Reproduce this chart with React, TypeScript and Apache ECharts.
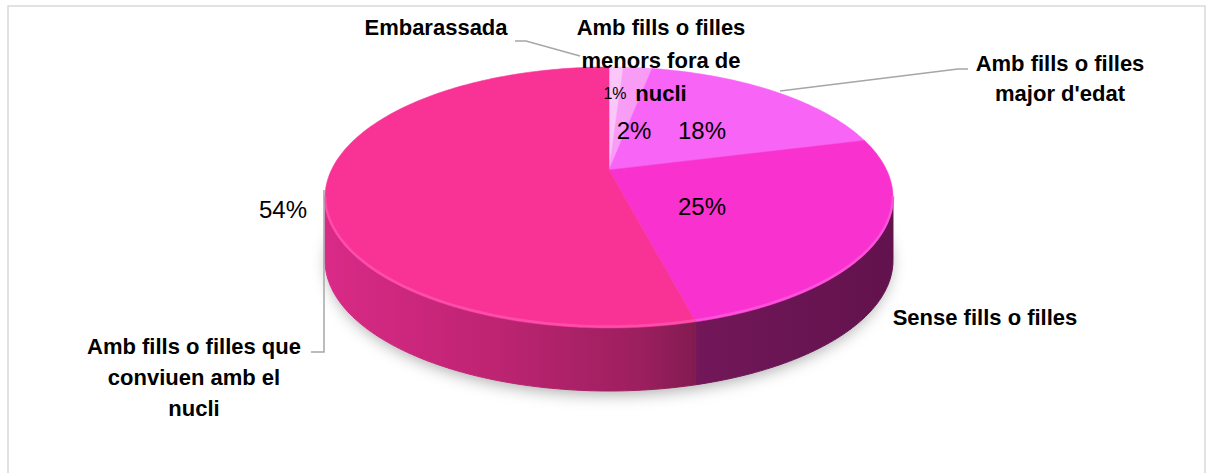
import React, { useEffect, useRef } from "react";
import * as echarts from "echarts";

// ---- data ----
const categories = [
  "Embarassada",
  "Amb fills o filles\nmenors fora de\nnucli",
  "Amb fills o filles\nmajor d'edat",
  "Sense fills o filles",
  "Amb fills o filles que\nconviuen amb el\nnucli",
];
const values = [1, 2, 18, 25, 54];

// ---- styles / layout ----
const topColors = ["#FBC6F8", "#F99CF6", "#F864F6", "#F932CF", "#F93396"];
const rimColors = ["#FDD8FA", "#FBB4F8", "#FB86F8", "#FF5ADD", "#FF55B0"];
const sideStops = [
  [[0, "#E9A3E6"], [1, "#C97FC6"]],
  [[0, "#D978D6"], [1, "#B85FB5"]],
  [[0, "#B840B6"], [1, "#8E2C8C"]],
  [[0, "#721759"], [0.5, "#6A1553"], [1, "#62124D"]],
  [[0, "#D92A87"], [0.45, "#BE2472"], [0.85, "#9C1F5F"], [1, "#821B50"]],
];
const pctPos = [[615, 93], [634, 130], [702, 130], [702, 206], [283, 209]];
const pctSize = [16, 24, 24, 24, 24];
const namePos = [[436, 27], [661, 60], [1060, 78], [985, 317], [194, 377]];
const nameLineHeight = [31, 33, 30, 31, 31];
const leaders: (number[][] | null)[] = [
  [[515, 41], [526, 41], [580, 56]],
  null,
  [[968, 69], [958, 69], [780, 91]],
  null,
  [[311, 352], [324, 352], [324, 190]],
];

// perspective pie geometry
const CX = 609;
const CY = 170; // projected centre of the pie
const AX = 277.6; // horizontal scale
const BY = 124.7; // depth scale
const P = 0.2107; // perspective factor
const DEPTH = 63;
const FONT = '"Liberation Sans", Arial, sans-serif';

export default function App() {
  const ref = useRef<HTMLDivElement>(null);
  useEffect(() => {
    if (!ref.current) return;
    const chart = echarts.init(ref.current, undefined, { renderer: "svg" });
    const total = values.reduce((a, b) => a + b, 0);
    const starts: number[] = [];
    let acc = 0;
    values.forEach((v) => {
      starts.push(acc);
      acc += v;
    });
    const pt = (t: number, dy = 0) => {
      const X = Math.sin(t);
      const Z = Math.cos(t);
      const d = 1 + P * Z;
      return [CX + (AX * X) / d, CY - (BY * Z) / d + dy];
    };
    const arc = (s: number, e: number, dy = 0) => {
      const n = Math.max(2, Math.ceil((e - s) / (Math.PI / 180)));
      const pts: number[][] = [];
      for (let k = 0; k <= n; k++) pts.push(pt(s + ((e - s) * k) / n, dy));
      return pts;
    };
    const silA = Math.acos(-P);
    const silB = 2 * Math.PI - silA;

    const renderItem = (params: any, api: any) => {
      const i = params.dataIndex;
      const v = api.value(0) as number;
      const a0 = (starts[i] / total) * 2 * Math.PI;
      const a1 = a0 + (v / total) * 2 * Math.PI;
      const children: any[] = [];
      const s = Math.max(a0, silA);
      const e = Math.min(a1, silB);
      const hasSide = e > s;
      if (hasSide) {
        const top = arc(s, e);
        const bottom = arc(s, e, DEPTH).reverse();
        const xs = top.map((p) => p[0]);
        const minX = Math.min(...xs);
        const maxX = Math.max(...xs);
        const grad = new echarts.graphic.LinearGradient(
          minX, 0, maxX, 0,
          sideStops[i].map((st) => ({ offset: st[0] as number, color: st[1] as string })),
          true
        );
        children.push({
          type: "polygon",
          shape: { points: top.concat(bottom) },
          style: { fill: grad, stroke: grad, lineWidth: 1 },
        });
      }
      children.push({
        type: "polygon",
        shape: { points: [[CX, CY]].concat(arc(a0, a1)) },
        style: { fill: topColors[i], stroke: topColors[i], lineWidth: 0.6 },
      });
      if (hasSide) {
        children.push({
          type: "polyline",
          shape: { points: arc(s, e, -1.5) },
          style: { stroke: rimColors[i], lineWidth: 2.5, fill: null, opacity: 0.8 },
        });
      }
      return { type: "group", children };
    };

    // shadow shape under the pie (bottom rim)
    const shadowPts = arc(0, 2 * Math.PI, DEPTH - 2).map((p) => [
      CX + (p[0] - CX) * 0.99,
      p[1],
    ]);

    const graphics: any[] = [
      {
        type: "rect",
        shape: { x: 8, y: 6, width: 1197, height: 480 },
        style: { fill: "#fff", stroke: "#D9D9D9", lineWidth: 1.5 },
        z: -10,
        silent: true,
      },
      {
        type: "polygon",
        shape: { points: shadowPts },
        style: { fill: "#ffffff", shadowBlur: 16, shadowColor: "rgba(0,0,0,0.34)", shadowOffsetY: 5 },
        z: -5,
        silent: true,
      },
    ];
    leaders.forEach((pts) => {
      if (!pts) return;
      graphics.push({
        type: "polyline",
        shape: { points: pts },
        style: { stroke: "#A6A6A6", lineWidth: 1.5, fill: null },
        z: 50,
        silent: true,
      });
    });
    values.forEach((v, i) => {
      graphics.push({
        type: "text",
        x: pctPos[i][0],
        y: pctPos[i][1],
        z: 100,
        silent: true,
        style: {
          text: `${v}%`,
          font: `${pctSize[i]}px ${FONT}`,
          fill: "#000",
          align: "center",
          verticalAlign: "middle",
          textAlign: "center",
          textVerticalAlign: "middle",
        },
      });
      graphics.push({
        type: "text",
        x: namePos[i][0],
        y: namePos[i][1],
        z: 100,
        silent: true,
        style: {
          text: categories[i],
          font: `bold 22px ${FONT}`,
          fill: "#000",
          lineHeight: nameLineHeight[i],
          align: "center",
          verticalAlign: "middle",
          textAlign: "center",
          textVerticalAlign: "middle",
        },
      });
    });

    chart.setOption({
      animation: false,
      backgroundColor: "#fff",
      graphic: { elements: graphics },
      series: [
        {
          type: "custom",
          coordinateSystem: "none",
          silent: true,
          z: 2,
          data: values.map((v, i) => ({ name: categories[i].replace(/\n/g, " "), value: [v] })),
          renderItem,
        },
      ],
    });
    return () => chart.dispose();
  }, []);
  return (
    <div
      ref={ref}
      style={{ position: "fixed", left: 0, top: 0, width: 1210, height: 473, background: "#fff" }}
    />
  );
}
